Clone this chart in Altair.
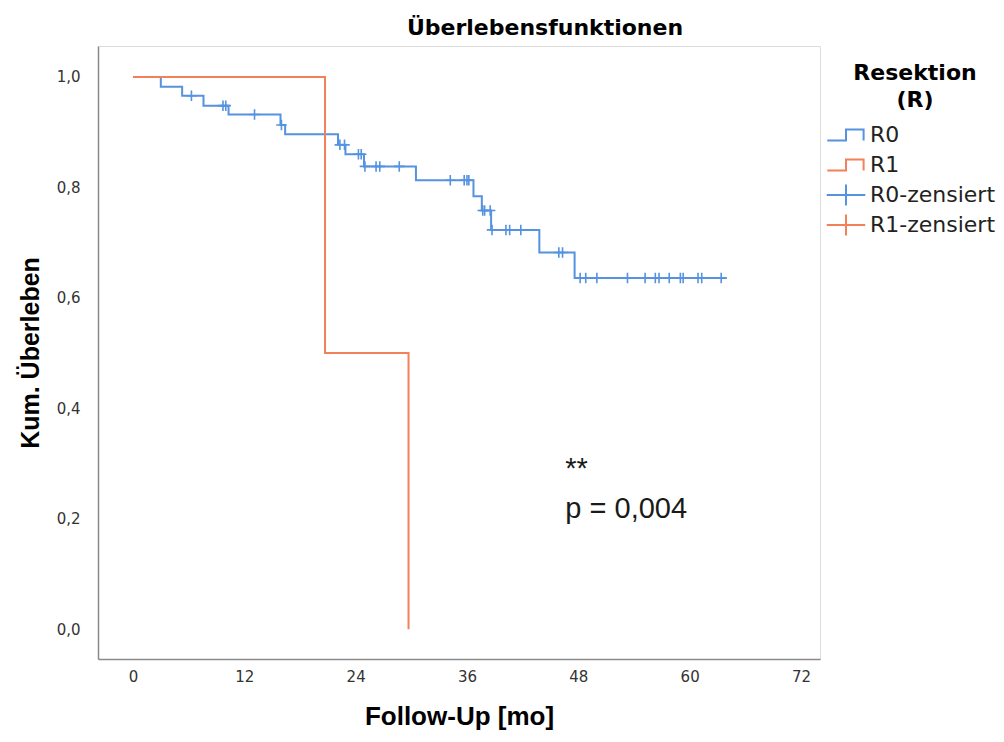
import altair as alt
import pandas as pd

# ---------------- data ----------------
r0_time = [0, 3.0, 5.3, 7.6, 10.3, 15.9, 16.4, 22.1, 22.9, 24.9, 30.5, 36.7, 37.6, 38.6, 43.8, 47.6, 64.0]
r0_surv = [1.0, 0.982, 0.966, 0.948, 0.932, 0.913, 0.896, 0.877, 0.860, 0.838, 0.813, 0.784, 0.758, 0.723, 0.682, 0.636, 0.636]

r1_time = [0, 20.7, 29.7]
r1_surv = [1.0, 0.5, 0.0]

r0_cens_time = [6.3, 9.7, 10.0, 13.1, 16.0, 22.3, 22.8, 24.3, 24.6, 25.0, 26.2, 26.6, 28.7,
                34.2, 35.7, 36.0, 36.2, 37.7, 37.9, 38.5, 38.7, 40.2, 40.6, 41.8, 45.9, 46.3,
                48.2, 48.8, 50.0, 53.3, 55.2, 56.3, 56.7, 57.8, 59.0, 59.3, 60.9, 61.3, 63.4]
r0_cens_surv = [0.966, 0.948, 0.948, 0.932, 0.913, 0.877, 0.877, 0.860, 0.860, 0.838, 0.838, 0.838, 0.838,
                0.813, 0.813, 0.813, 0.813, 0.758, 0.758, 0.758, 0.723, 0.723, 0.723, 0.723, 0.682, 0.682,
                0.636, 0.636, 0.636, 0.636, 0.636, 0.636, 0.636, 0.636, 0.636, 0.636, 0.636, 0.636, 0.636]

legend_series = ["R0", "R1", "R0-zensiert", "R1-zensiert"]

x_ticks = [0, 12, 24, 36, 48, 60, 72]
y_ticks = [0.0, 0.2, 0.4, 0.6, 0.8, 1.0]

annot_text = ["**", "p = 0,004"]
annot_x = [46.6, 46.6]
annot_y = [0.2736, 0.2011]

# ---------------- styling ----------------
BLUE = "#5592e0"
ORANGE = "#f2815a"
STEP_PATH = "M-1.7,0.5H0V-0.5H1.6V0.5"
CROSS_PATH = "M-1.75,0H1.75M0,-0.95V0.95"
CENSOR_PATH = "M-1,0H1M0,-1V1"

df_r0 = pd.DataFrame({"t": r0_time, "s": r0_surv})
df_r1 = pd.DataFrame({"t": r1_time, "s": r1_surv})
df_c0 = pd.DataFrame({"t": r0_cens_time, "s": r0_cens_surv})
df_leg = pd.DataFrame({"series": legend_series, "t": [None] * 4, "s": [None] * 4})
df_ann = pd.DataFrame({"label": annot_text, "t": annot_x, "s": annot_y})

xs = alt.Scale(domain=[-3.77, 74.05], nice=False, zero=False)
ys = alt.Scale(domain=[-0.054, 1.056], nice=False, zero=False)

x_axis = alt.Axis(
    values=x_ticks, format="d", ticks=False, grid=False, title="Follow-Up [mo]",
    domainColor="#8a8a8a", domainWidth=1.5, labelFont="DejaVu Sans", labelFontSize=15,
    labelColor="#333333", labelPadding=10, labelFlush=False,
    titleFont="Liberation Sans", titleFontSize=26, titleFontWeight="bold", titleColor="black",
    titlePadding=19,
)
y_axis = alt.Axis(
    values=y_ticks, labelExpr="replace(format(datum.value, '.1f'), '.', ',')",
    ticks=False, grid=False, title="Kum. Überleben",
    domainColor="#8a8a8a", domainWidth=1.5, labelFont="DejaVu Sans", labelFontSize=15,
    labelColor="#333333", labelPadding=18, labelFlush=False,
    titleFont="Liberation Sans", titleFontSize=25, titleFontWeight="bold", titleColor="black",
    titlePadding=13,
)

X = alt.X("t:Q", scale=xs, axis=x_axis)
Y = alt.Y("s:Q", scale=ys, axis=y_axis)
Xn = alt.X("t:Q", scale=xs)
Yn = alt.Y("s:Q", scale=ys)

line_r0 = alt.Chart(df_r0).mark_line(interpolate="step-after", color=BLUE, strokeWidth=2).encode(x=X, y=Y)
line_r1 = alt.Chart(df_r1).mark_line(interpolate="step-after", color=ORANGE, strokeWidth=2).encode(x=Xn, y=Yn)

cens_r0 = alt.Chart(df_c0).mark_point(
    shape=CENSOR_PATH, size=110, filled=False, color=BLUE, strokeWidth=1.6, opacity=1
).encode(x=Xn, y=Yn)

leg = alt.Legend(
    title=["Resektion", "(R)"], orient="none", legendX=736, legendY=17,
    titleFont="DejaVu Sans", titleFontSize=22, titleFontWeight="bold", titleColor="black",
    titleAlign="center", titleAnchor="middle", titleLineHeight=27, titlePadding=11,
    labelFont="DejaVu Sans", labelFontSize=22, labelColor="#222222", labelOffset=12,
    symbolSize=484, symbolStrokeWidth=2, rowPadding=0, padding=0,
    columns=1, gridAlign="all",
)

legend_layer = alt.Chart(df_leg).mark_point(filled=False, size=484, strokeWidth=2, opacity=0).encode(
    x=Xn, y=Yn,
    color=alt.Color("series:N", scale=alt.Scale(domain=legend_series, range=[BLUE, ORANGE, BLUE, ORANGE]), legend=leg),
    shape=alt.Shape("series:N", scale=alt.Scale(domain=legend_series, range=[STEP_PATH, STEP_PATH, CROSS_PATH, CROSS_PATH]), legend=leg),
)

annot = alt.Chart(df_ann).mark_text(
    align="left", baseline="alphabetic", font="Liberation Sans", fontSize=29, color="#1a1a1a"
).encode(x=Xn, y=Yn, text="label:N")

chart = alt.layer(line_r0, line_r1, cens_r0, annot, legend_layer).properties(
    width=722, height=613,
    title=alt.TitleParams("Überlebensfunktionen", font="DejaVu Sans", fontSize=22, fontWeight="bold",
                          color="black", anchor="middle", dx=86, offset=6),
    autosize=alt.AutoSizeParams(type="none"),
    padding={"left": 90, "top": 38, "right": 176, "bottom": 75},
).configure_view(stroke=None).configure(background="white")

chart.save("out.html", embed_options={"renderer": "svg", "actions": False})
